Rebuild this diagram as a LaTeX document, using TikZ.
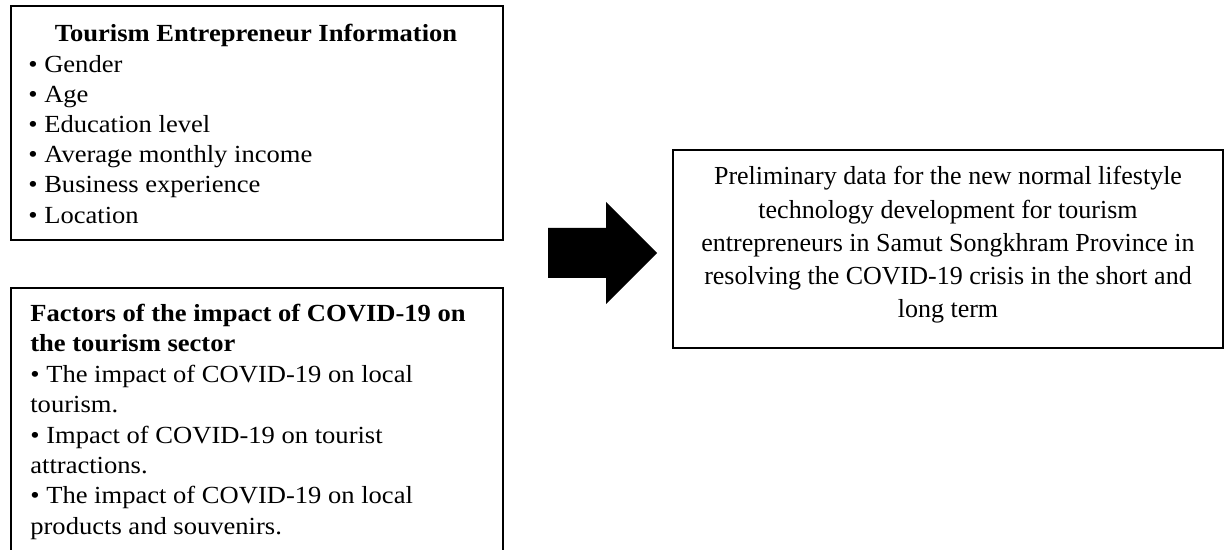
\documentclass[tikz,border=0pt]{standalone}
\usepackage{fontspec}
\setmainfont{Liberation Serif}
\newfontfamily\widefont[FakeStretch=1.08]{Liberation Serif}
\usetikzlibrary{positioning}

\begin{document}
\begin{tikzpicture}[x=0.02cm,y=-0.02cm,
  boxframe/.style={draw, line width=1.1pt, inner sep=0pt, anchor=north west, minimum width=9.84cm},
  leftline/.style={anchor=base west, inner sep=0pt, font=\widefont\fontsize{14}{17}\selectfont},
  lefttitle/.style={leftline, font=\widefont\fontsize{14}{17}\selectfont\bfseries},
  resultline/.style={anchor=base, inner sep=0pt, font=\fontsize{14.8}{18}\selectfont}]
\useasboundingbox (0,0) rectangle (1225,550);
% Tourism entrepreneur information
\node[boxframe, minimum height=4.68cm] (infobox) at (10,5) {};
\node[lefttitle, anchor=base] (infotitle) at (256,42) {Tourism Entrepreneur Information};
\foreach \txt [count=\i] in {Gender, Age, Education level, Average monthly income, Business experience, Location}
   \node[leftline] (info\i) at (28,{42+30.2*\i}) {• \txt};
% Factors of the impact
\node[boxframe, minimum height=5.46cm] (factorbox) at (10,287) {};
\node[lefttitle] (factortitle1) at (30,322) {Factors of the impact of COVID-19 on};
\node[lefttitle] (factortitle2) at (30,352) {the tourism sector};
\foreach \txt [count=\i] in {• The impact of COVID-19 on local, tourism., • Impact of COVID-19 on tourist, attractions., • The impact of COVID-19 on local, products and souvenirs.}
   \node[leftline] (factor\i) at (30,{352+30.4*\i}) {\txt};
% Result
\node[draw, line width=1.1pt, minimum width=11cm, minimum height=3.96cm] (resultbox) at (948,249) {};
\foreach \txt [count=\i] in {Preliminary data for the new normal lifestyle, technology development for tourism, entrepreneurs in Samut Songkhram Province in, resolving the COVID-19 crisis in the short and, long term}
   \node[resultline] (result\i) at (948,{151.75+33.25*\i}) {\txt};
% Block arrow
\fill (548,228) -- (606,228) -- (606,202) -- (657,253) -- (606,304) -- (606,278) -- (548,278) -- cycle;
\end{tikzpicture}
\end{document}
